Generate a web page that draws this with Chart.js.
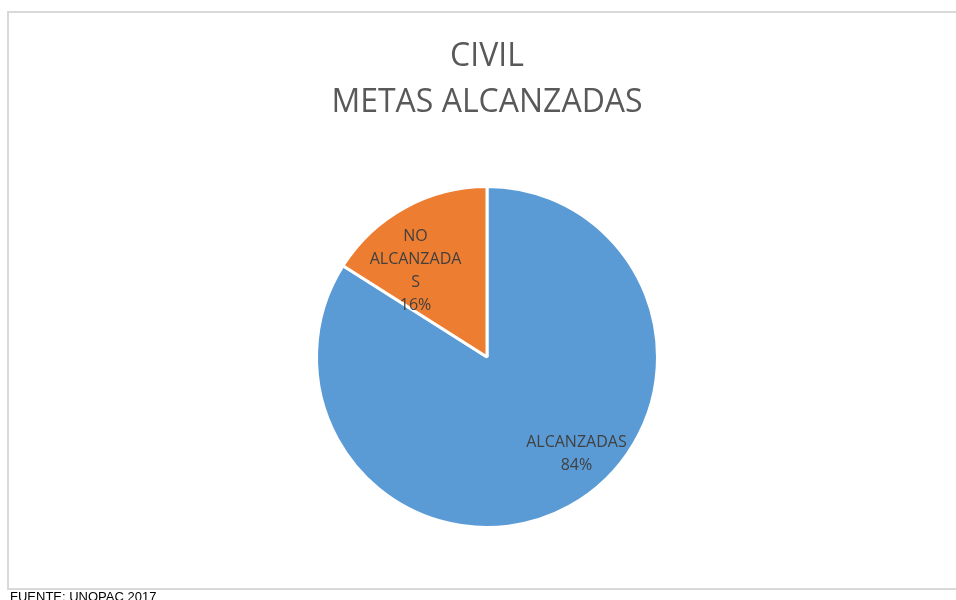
<!DOCTYPE html>
<html>
<head>
<meta charset="utf-8">
<script src="https://cdn.jsdelivr.net/npm/chart.js@4/dist/chart.umd.min.js"></script>
<style>
    body{
        margin:0;
        width:956px;
        height:600px;
        overflow:hidden;
        background:#ffffff;
        position:relative;
    }
    #frame{
        position:absolute;
        left:7px;
        top:11px;
        width:1000px;
        height:575px;
        border:2px solid #d9d9d9;
    }
    #canvas-holder{
        position:absolute;
        left:0;
        top:0;
        width:956px;
        height:600px;
    }
    #fuente{
        position:absolute;
        left:10px;
        top:589px;
        font-family:"Liberation Sans", Arial, sans-serif;
        font-size:13px;
        line-height:15px;
        color:#000000;
        white-space:nowrap;
    }
</style>
</head>
<body>
<div id="frame"></div>
<div id="canvas-holder"><canvas id="pie"></canvas></div>
<div id="fuente">FUENTE: UNOPAC 2017</div>

<script>
let titleLines = ["CIVIL", "METAS ALCANZADAS"]
let categories = ["ALCANZADAS", "NO ALCANZADAS"]
let percents = [84, 16]
// how the labels break inside the slices, as in the original
let labelLines = [["ALCANZADAS", "84%"], ["NO", "ALCANZADA", "S", "16%"]]
let colors = ["#5B9BD5", "#ED7D31"]

// label placement: share of radius and angle shift (degrees) from the slice middle
let labelRadius = [0.772, 0.655]
let labelShift = [-14, -11]

let sliceLabels = {
    id:"sliceLabels",
    afterDatasetsDraw(chart){
        let ctx = chart.ctx
        let arcs = chart.getDatasetMeta(0).data
        ctx.save()
        ctx.font = "16px 'Open Sans'"
        ctx.fillStyle = "#404040"
        ctx.textAlign = "center"
        ctx.textBaseline = "middle"
        arcs.forEach(function(arc, i){
            let p = arc.getProps(["x", "y", "startAngle", "endAngle", "outerRadius"])
            let mid = (p.startAngle + p.endAngle) / 2 + labelShift[i] * Math.PI / 180
            let r = p.outerRadius * labelRadius[i]
            let cx = p.x + Math.cos(mid) * r
            let cy = p.y + Math.sin(mid) * r
            let lines = labelLines[i]
            let step = 23
            let y0 = cy - (lines.length - 1) * step / 2
            lines.forEach(function(line, k){
                ctx.fillText(line, cx, y0 + k * step)
            })
        })
        ctx.restore()
    }
}

let canvas = document.querySelector("#pie")

let chart = new Chart(
    canvas,
    {
        type:'pie',
        data:{
            labels:categories,
            datasets:[{
                data:percents,
                backgroundColor:colors,
                borderColor:"#ffffff",
                borderWidth:3
            }]
        },
        options:{
            responsive:true,
            maintainAspectRatio:false,
            animation:false,
            layout:{
                padding:{top:10, bottom:71, left:315, right:297}
            },
            plugins:{
                legend:{display:false},
                tooltip:{enabled:false},
                title:{
                    display:true,
                    text:titleLines,
                    color:"#595959",
                    font:{family:"'Open Sans'", size:32, weight:'normal', lineHeight:1.4375},
                    padding:{top:24, bottom:59}
                }
            }
        },
        plugins:[sliceLabels]
    }
)
</script>
</body>
</html>
